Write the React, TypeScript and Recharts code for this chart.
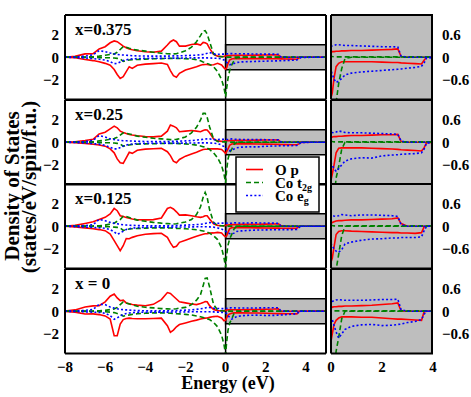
import { LineChart, Line, XAxis, YAxis, ReferenceArea, ReferenceLine } from "recharts";

// energy grid (eV), shared by all curves
const energy = [
  -8, -7.5, -7, -6.6, -6.3, -6, -5.75, -5.55, -5.4, -5.25, -5.1, -4.95, -4.8, -4.65, -4.4, -4, -3.6, -3.2,
  -2.9, -2.75, -2.6, -2.45, -2.3, -2, -1.7, -1.45, -1.25, -1.12, -1.02, -0.92, -0.8, -0.6, -0.4, -0.2, -0.08,
  0, 0.05, 0.12, 0.2, 0.3, 0.42, 0.55, 0.8, 1.2, 1.6, 2, 2.4, 2.62, 2.75, 3, 3.3, 3.55, 3.65, 3.75, 4.3, 5,
];

// x = 0.375
const opUp375 = [0, 0.08, 0.3, 0.32, 0.75, 0.95, 1.3, 1.47, 1.4, 1.2, 1.0, 0.85, 0.75, 0.68, 0.58, 0.5, 0.45, 0.55, 1.1, 1.4, 1.55, 1.4, 1.0, 1.0, 1.15, 1.2, 1.1, 1.33, 1.3, 1.2, 0.8, 0.27, 0.1, 0.06, 0.08,
  0.12, 0.15, 0.15, 0.16, 0.16, 0.17, 0.17, 0.18, 0.18, 0.19, 0.2, 0.21, 0.22, 0.02, 0, 0, 0, 0, 0, 0, 0];
const opDn375 = [0, -0.05, -0.2, -0.3, -0.4, -0.55, -0.72, -1.1, -1.55, -1.9, -1.75, -1.3, -0.85, -1.0, -0.72, -0.62, -0.57, -0.52, -0.65, -1.2, -1.65, -1.8, -1.45, -1.15, -0.98, -0.85, -0.72, -0.66, -0.65, -0.64, -0.7, -0.68, -0.55, -0.7, -0.95,
  -1.07, -0.95, -0.55, -0.25, -0.16, -0.12, -0.12, -0.12, -0.12, -0.12, -0.13, -0.14, -0.14, -0.15, -0.16, -0.17, -0.18, -0.08, 0, 0, 0];
const t2gUp375 = [0.01, 0.01, 0.02, 0.05, 0.1, 0.18, 0.25, 0.3, 0.45, 0.7, 0.95, 0.9, 0.8, 0.72, 0.65, 0.55, 0.45, 0.36, 0.32, 0.3, 0.3, 0.32, 0.4, 0.58, 0.9, 1.4, 1.95, 2.35, 2.4, 2.1, 1.4, 0.3, 0.08, 0.04, 0.04,
  0.03, 0.02, 0.01, 0.01, 0.01, 0.01, 0.01, 0.01, 0.01, 0.01, 0.01, 0.01, 0.01, 0.01, 0.01, 0.01, 0.01, 0.01, 0.01, 0.01, 0.01];
const t2gDn375 = [0, 0, -0.01, -0.02, -0.03, -0.04, -0.05, -0.07, -0.1, -0.15, -0.38, -0.3, -0.25, -0.22, -0.2, -0.17, -0.14, -0.12, -0.11, -0.1, -0.1, -0.1, -0.11, -0.13, -0.16, -0.22, -0.32, -0.42, -0.47, -0.55, -0.64, -0.85, -1.3, -2.0, -2.75,
  -3.55, -2.8, -1.9, -1.2, -0.7, -0.3, -0.03, 0, 0, 0, 0, 0, 0, 0, 0, 0, 0, 0, 0, 0, 0];
const egUp375 = [0.01, 0.03, 0.1, 0.22, 0.6, 0.5, 0.38, 0.3, 0.25, 0.22, 0.2, 0.18, 0.16, 0.14, 0.12, 0.11, 0.1, 0.1, 0.1, 0.11, 0.12, 0.12, 0.13, 0.15, 0.17, 0.19, 0.22, 0.26, 0.3, 0.35, 0.43, 0.3, 0.27, 0.28, 0.28,
  0.29, 0.3, 0.31, 0.33, 0.33, 0.32, 0.31, 0.31, 0.3, 0.29, 0.28, 0.28, 0.27, 0.03, 0, 0, 0, 0, 0, 0, 0];
const egDn375 = [0, -0.02, -0.06, -0.12, -0.18, -0.25, -0.4, -0.58, -0.55, -0.42, -0.3, -0.22, -0.18, -0.15, -0.12, -0.1, -0.09, -0.09, -0.09, -0.09, -0.08, -0.08, -0.08, -0.07, -0.06, -0.06, -0.06, -0.06, -0.06, -0.06, -0.07, -0.08, -0.1, -0.15, -0.25,
  -0.35, -0.45, -0.58, -0.67, -0.63, -0.56, -0.47, -0.42, -0.39, -0.37, -0.35, -0.33, -0.32, -0.31, -0.29, -0.27, -0.24, -0.15, -0.02, 0, 0];

// x = 0.25
const opUp25 = [0, 0.05, 0.15, 0.27, 0.75, 0.9, 1.2, 1.45, 1.3, 1.0, 0.88, 0.78, 0.7, 0.65, 0.58, 0.52, 0.48, 0.55, 1.0, 1.55, 1.45, 1.3, 0.95, 1.0, 1.05, 1.0, 0.95, 1.05, 1.12, 1.1, 0.85, 0.3, 0.12, 0.08, 0.1,
  0.12, 0.14, 0.15, 0.15, 0.16, 0.16, 0.17, 0.18, 0.18, 0.19, 0.2, 0.2, 0.21, 0.02, 0, 0, 0, 0, 0, 0, 0];
const opDn25 = [0, -0.03, -0.1, -0.18, -0.25, -0.35, -0.6, -0.95, -1.5, -1.85, -1.9, -1.4, -0.9, -1.0, -0.72, -0.62, -0.58, -0.55, -0.85, -1.2, -1.7, -1.85, -1.55, -1.25, -1.05, -0.9, -0.75, -0.65, -0.63, -0.62, -0.6, -0.6, -0.6, -0.65, -0.85,
  -1.0, -0.85, -0.6, -0.28, -0.16, -0.15, -0.15, -0.15, -0.15, -0.16, -0.17, -0.18, -0.19, -0.2, -0.21, -0.22, -0.23, -0.15, -0.01, 0, 0];
const t2gUp25 = [0.01, 0.01, 0.02, 0.05, 0.12, 0.18, 0.27, 0.33, 0.45, 0.65, 0.85, 0.8, 0.75, 0.68, 0.55, 0.45, 0.36, 0.3, 0.26, 0.24, 0.24, 0.26, 0.32, 0.48, 0.85, 1.35, 2.0, 2.6, 2.6, 2.25, 1.4, 0.3, 0.06, 0.04, 0.03,
  0.03, 0.02, 0.01, 0.01, 0.01, 0.01, 0.01, 0.01, 0.01, 0.01, 0.01, 0.01, 0.01, 0.01, 0.01, 0.01, 0.01, 0.01, 0.01, 0.01, 0.01];
const t2gDn25 = [0, 0, -0.01, -0.02, -0.03, -0.04, -0.05, -0.07, -0.1, -0.15, -0.36, -0.28, -0.24, -0.2, -0.17, -0.15, -0.13, -0.11, -0.1, -0.1, -0.1, -0.1, -0.12, -0.15, -0.2, -0.26, -0.33, -0.4, -0.45, -0.52, -0.65, -0.95, -1.4, -2.1, -2.85,
  -3.65, -2.5, -1.5, -0.95, -0.65, -0.18, 0, 0, 0, 0, 0, 0, 0, 0, 0, 0, 0, 0, 0, 0, 0];
const egUp25 = [0.01, 0.03, 0.06, 0.18, 0.6, 0.48, 0.3, 0.24, 0.2, 0.17, 0.14, 0.13, 0.12, 0.11, 0.09, 0.07, 0.06, 0.06, 0.06, 0.07, 0.08, 0.09, 0.1, 0.12, 0.15, 0.2, 0.23, 0.27, 0.29, 0.3, 0.3, 0.24, 0.25, 0.26, 0.27,
  0.27, 0.26, 0.25, 0.27, 0.3, 0.28, 0.26, 0.25, 0.25, 0.24, 0.23, 0.22, 0.21, 0.03, 0, 0, 0, 0, 0, 0, 0];
const egDn25 = [0, -0.02, -0.06, -0.12, -0.17, -0.28, -0.45, -0.6, -0.6, -0.48, -0.35, -0.25, -0.2, -0.16, -0.12, -0.1, -0.09, -0.09, -0.08, -0.08, -0.08, -0.08, -0.08, -0.07, -0.07, -0.06, -0.06, -0.06, -0.06, -0.06, -0.07, -0.08, -0.12, -0.25, -0.4,
  -0.55, -0.62, -0.7, -0.77, -0.7, -0.6, -0.5, -0.44, -0.41, -0.42, -0.36, -0.34, -0.33, -0.32, -0.31, -0.3, -0.28, -0.18, -0.02, 0, 0];

// x = 0.125
const opUp125 = [0, 0.08, 0.25, 0.4, 0.6, 0.8, 1.1, 1.6, 1.4, 0.95, 0.88, 0.78, 0.72, 0.65, 0.58, 0.57, 0.6, 0.75, 1.6, 1.7, 1.55, 1.3, 1.0, 1.02, 0.95, 0.85, 0.8, 0.85, 0.95, 0.95, 0.65, 0.22, 0.08, 0.05, 0.06,
  0.08, 0.1, 0.12, 0.14, 0.15, 0.15, 0.16, 0.17, 0.17, 0.18, 0.19, 0.2, 0.22, 0.07, 0, 0, 0, 0, 0, 0, 0];
const opDn125 = [0, -0.06, -0.15, -0.22, -0.3, -0.4, -0.7, -1.3, -1.75, -2.2, -1.75, -1.1, -1.12, -1.0, -0.85, -0.72, -0.66, -0.63, -1.0, -1.5, -1.9, -1.8, -1.45, -1.25, -1.05, -0.9, -0.78, -0.72, -0.68, -0.66, -0.62, -0.6, -0.55, -0.6, -0.85,
  -0.95, -0.85, -0.55, -0.22, -0.14, -0.12, -0.12, -0.13, -0.14, -0.15, -0.16, -0.17, -0.17, -0.18, -0.18, -0.19, -0.17, -0.02, 0, 0, 0];
const t2gUp125 = [0.01, 0.01, 0.02, 0.03, 0.05, 0.1, 0.2, 0.28, 0.45, 0.6, 0.9, 0.88, 0.78, 0.68, 0.55, 0.45, 0.35, 0.28, 0.24, 0.22, 0.2, 0.22, 0.28, 0.38, 0.6, 1.05, 1.75, 2.6, 3.05, 2.6, 1.5, 0.35, 0.06, 0.04, 0.03,
  0.03, 0.02, 0.01, 0.01, 0.01, 0.01, 0.01, 0.01, 0.01, 0.01, 0.01, 0.01, 0.01, 0.01, 0.01, 0.01, 0.01, 0.01, 0.01, 0.01, 0.01];
const t2gDn125 = [0, 0, -0.01, -0.02, -0.03, -0.04, -0.05, -0.08, -0.1, -0.15, -0.38, -0.3, -0.25, -0.22, -0.2, -0.17, -0.15, -0.15, -0.15, -0.16, -0.17, -0.19, -0.2, -0.23, -0.26, -0.32, -0.38, -0.42, -0.46, -0.52, -0.62, -0.85, -1.2, -1.95, -2.85,
  -3.7, -2.6, -1.7, -1.15, -0.75, -0.25, 0, 0, 0, 0, 0, 0, 0, 0, 0, 0, 0, 0, 0, 0, 0];
const egUp125 = [0.01, 0.02, 0.06, 0.14, 0.62, 0.5, 0.35, 0.27, 0.22, 0.17, 0.13, 0.11, 0.09, 0.08, 0.06, 0.04, 0.03, 0.03, 0.04, 0.05, 0.06, 0.07, 0.08, 0.1, 0.13, 0.15, 0.17, 0.2, 0.25, 0.3, 0.33, 0.27, 0.27, 0.28, 0.28,
  0.28, 0.28, 0.27, 0.26, 0.28, 0.31, 0.3, 0.28, 0.3, 0.3, 0.29, 0.28, 0.26, 0.04, 0, 0, 0, 0, 0, 0, 0];
const egDn125 = [0, -0.03, -0.08, -0.1, -0.14, -0.18, -0.3, -0.5, -0.72, -0.6, -0.45, -0.3, -0.22, -0.17, -0.13, -0.1, -0.09, -0.09, -0.08, -0.08, -0.08, -0.08, -0.07, -0.07, -0.06, -0.05, -0.05, -0.05, -0.05, -0.05, -0.06, -0.08, -0.15, -0.25, -0.38,
  -0.46, -0.52, -0.6, -0.66, -0.69, -0.62, -0.47, -0.42, -0.37, -0.34, -0.33, -0.31, -0.31, -0.3, -0.3, -0.3, -0.28, -0.12, 0, 0, 0];

// x = 0
const opUp0 = [0.02, 0.12, 0.38, 0.48, 0.5, 0.85, 1.35, 1.55, 1.2, 0.95, 1.0, 0.75, 0.68, 0.6, 0.55, 0.5, 0.62, 1.05, 1.68, 1.6, 1.35, 1.1, 0.85, 0.75, 0.65, 0.6, 0.7, 0.78, 0.88, 0.85, 0.5, 0.15, 0.06, 0.04, 0.05,
  0.08, 0.11, 0.12, 0.12, 0.13, 0.13, 0.14, 0.14, 0.15, 0.16, 0.18, 0.2, 0.22, 0.01, 0, 0, 0, 0, 0, 0.02, 0.04];
const opDn0 = [-0.02, -0.08, -0.25, -0.24, -0.3, -0.42, -0.7, -2.2, -2.2, -1.15, -0.75, -0.65, -0.62, -0.65, -0.68, -0.68, -0.65, -0.62, -1.3, -1.9, -1.7, -1.4, -1.2, -1.05, -0.9, -0.8, -0.7, -0.65, -0.62, -0.6, -0.55, -0.48, -0.45, -0.6, -0.85,
  -0.8, -0.6, -0.35, -0.24, -0.18, -0.15, -0.15, -0.15, -0.16, -0.16, -0.18, -0.2, -0.21, -0.21, -0.22, -0.23, -0.24, -0.02, 0, 0, 0];
const t2gUp0 = [0.01, 0.01, 0.02, 0.03, 0.05, 0.08, 0.15, 0.2, 0.35, 0.6, 0.84, 0.75, 0.66, 0.58, 0.45, 0.36, 0.3, 0.24, 0.21, 0.2, 0.2, 0.22, 0.28, 0.35, 0.6, 1.0, 1.5, 2.3, 2.95, 3.0, 2.2, 0.6, 0.1, 0.03, 0.02,
  0.02, 0.01, 0.01, 0.01, 0.01, 0.01, 0.01, 0.01, 0.01, 0.01, 0.01, 0.01, 0.01, 0.01, 0.01, 0.01, 0.01, 0.01, 0.01, 0.01, 0.01];
const t2gDn0 = [0, 0, -0.01, -0.02, -0.03, -0.05, -0.08, -0.12, -0.2, -0.28, -0.45, -0.38, -0.33, -0.28, -0.22, -0.18, -0.15, -0.15, -0.16, -0.18, -0.2, -0.22, -0.24, -0.28, -0.33, -0.42, -0.5, -0.56, -0.62, -0.68, -0.75, -1.0, -1.4, -2.15, -3.0,
  -3.9, -2.8, -1.7, -1.06, -0.7, -0.2, 0, 0, 0, 0, 0, 0, 0, 0, 0, 0, 0, 0, 0, 0, 0];
const egUp0 = [0.01, 0.03, 0.08, 0.16, 0.62, 0.6, 0.38, 0.28, 0.22, 0.17, 0.14, 0.12, 0.1, 0.08, 0.06, 0.04, 0.03, 0.03, 0.04, 0.05, 0.06, 0.07, 0.08, 0.1, 0.12, 0.17, 0.22, 0.25, 0.3, 0.35, 0.34, 0.27, 0.25, 0.24, 0.24,
  0.24, 0.26, 0.28, 0.3, 0.31, 0.3, 0.29, 0.29, 0.29, 0.3, 0.31, 0.31, 0.32, 0.04, 0, 0, 0, 0, 0, 0, 0];
const egDn0 = [0, -0.02, -0.05, -0.08, -0.1, -0.18, -0.4, -0.72, -0.6, -0.42, -0.28, -0.2, -0.16, -0.13, -0.1, -0.09, -0.08, -0.08, -0.08, -0.08, -0.07, -0.07, -0.07, -0.06, -0.05, -0.05, -0.05, -0.05, -0.05, -0.05, -0.05, -0.06, -0.08, -0.1, -0.13,
  -0.16, -0.22, -0.38, -0.55, -0.71, -0.6, -0.48, -0.4, -0.36, -0.35, -0.38, -0.37, -0.35, -0.34, -0.3, -0.27, -0.22, -0.08, 0, 0, 0];

const panelLabels = ["x=0.375", "x=0.25", "x=0.125", "x = 0"];
const panelCurves = [
  [opUp375, opDn375, t2gUp375, t2gDn375, egUp375, egDn375],
  [opUp25, opDn25, t2gUp25, t2gDn25, egUp25, egDn25],
  [opUp125, opDn125, t2gUp125, t2gDn125, egUp125, egDn125],
  [opUp0, opDn0, t2gUp0, t2gDn0, egUp0, egDn0],
];

const leftXLabels = [-8, -6, -4, -2, 0, 2, 4];
const leftYLabels = [-2, 0, 2];
const rightXLabels = [0, 2, 4];
const rightYLabels = [-0.6, 0, 0.6];
const legendNames = [["O p", ""], ["Co t", "2g"], ["Co e", "g"]];

const FONT = "'Liberation Serif', 'Times New Roman', serif";
const INK = "#000";
const GRAY = "#bebebe";
const RED = "#ff0000";
const GREEN = "#008000";
const BLUE = "#0000ff";

const SERIES = [
  { color: RED, dash: undefined },
  { color: RED, dash: undefined },
  { color: GREEN, dash: "5 3" },
  { color: GREEN, dash: "5 3" },
  { color: BLUE, dash: "2 2.2" },
  { color: BLUE, dash: "2 2.2" },
];

const LEFT_X = 65;
const LEFT_W = 261;
const RIGHT_X = 331;
const RIGHT_W = 102;
const TOP0 = 15;
const PANEL_H = 84.5;
const INSET_Y = 1.12;

const LEFT_XDOM = [-8, 5];
const LEFT_YDOM = [-3.8, 3.8];
const RIGHT_XDOM = [0, 4];
const RIGHT_YDOM = [-INSET_Y, INSET_Y];

const steps = (a: number, b: number, s: number) => {
  const out: number[] = [];
  for (let v = a; v <= b + 1e-9; v += s) out.push(Math.round(v * 100) / 100);
  return out;
};

const fmt = (v: number) => (v < 0 ? "\u2212" + Math.abs(v) : String(v));
const tickText = { fill: INK, fontSize: 15, fontWeight: 700, fontFamily: FONT };
const tickLine = { stroke: INK, strokeWidth: 1.3 };
const frameLine = { stroke: INK, strokeWidth: 2 };

function Panel({ idx, inset }: { idx: number; inset: boolean }) {
  const rows = energy.map((e, i) => {
    const r: Record<string, number> = { e };
    panelCurves[idx].forEach((arr, k) => (r["s" + k] = arr[i]));
    return r;
  });
  const xDom = inset ? RIGHT_XDOM : LEFT_XDOM;
  const yDom = inset ? RIGHT_YDOM : LEFT_YDOM;
  const xMajor = inset ? [0, 2, 4] : [-8, -6, -4, -2, 0, 2, 4];
  const xMinor = inset ? steps(0, 4, 0.4) : steps(-8, 5, 0.5);
  const yTicks = inset ? steps(-0.9, 0.9, 0.3) : steps(-3, 3, 1);
  const width = inset ? RIGHT_W : LEFT_W;
  const last = idx === panelCurves.length - 1;

  // every axis is mirrored, so none of them takes room from the plot area
  return (
    <div
      style={{
        position: "absolute",
        left: inset ? RIGHT_X : LEFT_X,
        top: TOP0 + idx * PANEL_H,
        width,
        height: PANEL_H,
        background: inset ? GRAY : "transparent",
      }}
    >
      <LineChart width={width} height={PANEL_H} data={rows} margin={{ top: 0, right: 0, bottom: 0, left: 0 }}>
        {!inset && (
          <ReferenceArea xAxisId="x" yAxisId="y" x1={0} x2={5} y1={-INSET_Y} y2={INSET_Y} fill={GRAY} fillOpacity={1} stroke={INK} strokeWidth={1.5} />
        )}
        {!inset && <ReferenceLine xAxisId="x" yAxisId="y" x={0} stroke={INK} strokeWidth={1.5} />}

        <XAxis xAxisId="x" dataKey="e" type="number" domain={xDom} allowDataOverflow orientation="bottom" mirror height={1}
          ticks={xMajor} interval={0} tick={false} tickSize={7} tickLine={tickLine} axisLine={frameLine} />
        <XAxis xAxisId="xm" dataKey="e" type="number" domain={xDom} allowDataOverflow orientation="bottom" mirror height={1}
          ticks={xMinor} interval={0} tick={false} tickSize={4} tickLine={tickLine} axisLine={false} />
        <XAxis xAxisId="xt" dataKey="e" type="number" domain={xDom} allowDataOverflow orientation="top" mirror height={1}
          ticks={xMajor} interval={0} tick={false} tickSize={7} tickLine={tickLine} axisLine={frameLine} />
        <XAxis xAxisId="xtm" dataKey="e" type="number" domain={xDom} allowDataOverflow orientation="top" mirror height={1}
          ticks={xMinor} interval={0} tick={false} tickSize={4} tickLine={tickLine} axisLine={false} />
        {last && (
          <XAxis xAxisId="xl" dataKey="e" type="number" domain={xDom} allowDataOverflow orientation="bottom" mirror height={1}
            ticks={inset ? rightXLabels : leftXLabels} interval={0} tick={tickText} tickFormatter={fmt}
            tickSize={0} tickMargin={-19} tickLine={false} axisLine={false} />
        )}

        <YAxis yAxisId="y" type="number" domain={yDom} allowDataOverflow orientation="left" mirror width={1}
          ticks={yTicks} interval={0} tick={false} tickSize={5} tickLine={tickLine} axisLine={frameLine} />
        <YAxis yAxisId="yr" type="number" domain={yDom} allowDataOverflow orientation="right" mirror width={1}
          ticks={yTicks} interval={0} tick={false} tickSize={5} tickLine={tickLine} axisLine={frameLine} />
        <YAxis yAxisId="yl" type="number" domain={yDom} allowDataOverflow orientation={inset ? "right" : "left"} mirror width={1}
          ticks={inset ? rightYLabels : leftYLabels} interval={0}
          tick={{ ...tickText, textAnchor: inset ? "start" : "end" }} tickFormatter={fmt}
          tickSize={0} tickMargin={inset ? -9 : -7} tickLine={false} axisLine={false} />

        {SERIES.map((s, k) => (
          <Line key={k} xAxisId="x" yAxisId="y" type="linear" dataKey={"s" + k} stroke={s.color} strokeWidth={1.6}
            strokeDasharray={s.dash} dot={false} activeDot={false} isAnimationActive={false} />
        ))}
      </LineChart>
    </div>
  );
}

export default function App() {
  const legendY = 169.5;
  return (
    <div style={{ position: "relative", width: 471, height: 397, background: "#fff", fontFamily: FONT }}>
      <style>{"body{margin:0}.recharts-surface,.recharts-wrapper{overflow:visible}"}</style>
      {panelCurves.map((_, i) => (
        <Panel key={"l" + i} idx={i} inset={false} />
      ))}
      {panelCurves.map((_, i) => (
        <Panel key={"r" + i} idx={i} inset />
      ))}
      <svg width={471} height={397} style={{ position: "absolute", left: 0, top: 0, pointerEvents: "none" }}
        fontFamily={FONT} fontWeight={700}>
        {panelLabels.map((t, i) => (
          <text key={t} x={75} y={TOP0 + i * PANEL_H + 20} fontSize={17}>{t}</text>
        ))}
        <text x={228} y={389} fontSize={18} textAnchor="middle">Energy (eV)</text>
        <g transform="rotate(-90)">
          <text x={-186} y={19} fontSize={21} textAnchor="middle">Density of States</text>
          <text x={-187} y={36} fontSize={21} textAnchor="middle">(states/eV/spin/f.u.)</text>
        </g>
        <rect x={236} y={157} width={83} height={55} fill="#fff" stroke={INK} strokeWidth={1.5} />
        {legendNames.map(([main, sub], i) => {
          const s = SERIES[i * 2];
          const y = legendY + i * 13;
          return (
            <g key={main}>
              <line x1={246} x2={263} y1={y} y2={y} stroke={s.color} strokeWidth={1.6} strokeDasharray={s.dash} />
              <text x={275} y={y + 5} fontSize={15}>
                {main}
                {sub && <tspan dy={3} fontSize={10}>{sub}</tspan>}
              </text>
            </g>
          );
        })}
      </svg>
    </div>
  );
}
